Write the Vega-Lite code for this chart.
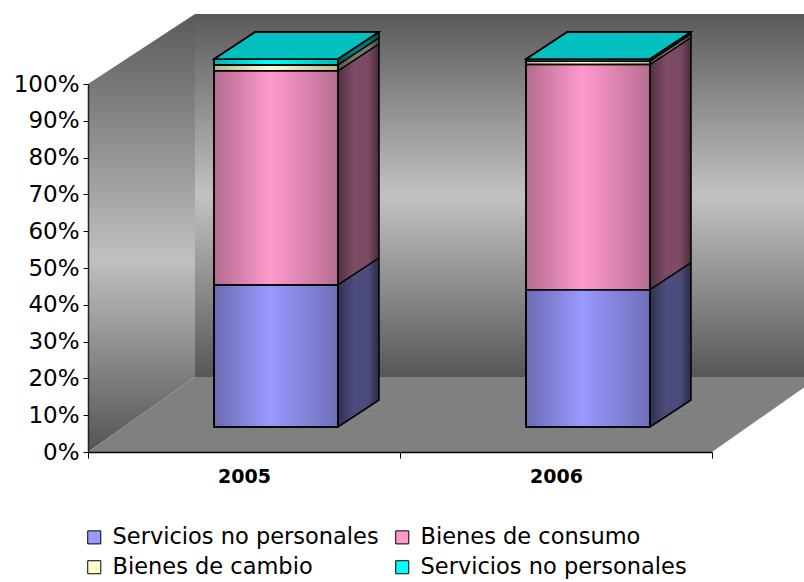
{
  "$schema": "https://vega.github.io/schema/vega-lite/v6.json",
  "width": 716,
  "height": 440,
  "autosize": {"type": "none"},
  "padding": {"left": 88, "top": 12, "right": 0, "bottom": 130},
  "background": "white",
  "config": {"view": {"stroke": null}, "font": "DejaVu Sans"},
  "data": {
    "values": [
      {"year": "2005", "serie": "Servicios no personales", "orden": 1, "pct": 38.6},
      {"year": "2005", "serie": "Bienes de consumo", "orden": 2, "pct": 58.2},
      {"year": "2005", "serie": "Bienes de cambio", "orden": 3, "pct": 1.6},
      {"year": "2005", "serie": "Servicios no personales ", "orden": 4, "pct": 1.6},
      {"year": "2006", "serie": "Servicios no personales", "orden": 1, "pct": 37.3},
      {"year": "2006", "serie": "Bienes de consumo", "orden": 2, "pct": 61.2},
      {"year": "2006", "serie": "Bienes de cambio", "orden": 3, "pct": 0.9},
      {"year": "2006", "serie": "Servicios no personales ", "orden": 4, "pct": 0.6}
    ]
  },
  "encoding": {
    "x": {
      "field": "year", "type": "nominal",
      "scale": {"domain": ["2005", "2006"], "range": [0, 624], "paddingInner": 0, "paddingOuter": 0},
      "axis": {"title": null, "labelAngle": 0, "tickBand": "extent", "labelFont": "DejaVu Sans", "labelFontWeight": "bold", "labelFontSize": 19, "labelColor": "black", "domainColor": "black", "domainWidth": 1.5, "tickColor": "black", "tickSize": 6, "labelPadding": 9, "grid": false, "zindex": 1}
    }
  },
  "layer": [
    {
      "data": {"values": [{}]},
      "layer": [
        {
          "mark": {"type": "point", "shape": "M107,-75 L716,-75 L716,-438 L107,-438 Z", "size": 4, "filled": true, "opacity": 1, "strokeWidth": 0,
            "fill": {"gradient": "linear", "x1": 0, "y1": 0, "x2": 0, "y2": 1, "stops": [{"offset": 0, "color": "#5a5a5a"}, {"offset": 0.5, "color": "#c2c2c2"}, {"offset": 1, "color": "#575757"}]}},
          "encoding": {"x": {"datum": "2005", "bandPosition": 0}, "y": {"datum": 0}}
        },
        {
          "mark": {"type": "point", "shape": "M0,0 L0,-368 L107,-438 L107,-75 Z", "size": 4, "filled": true, "opacity": 1, "strokeWidth": 0,
            "fill": {"gradient": "linear", "x1": 0, "y1": 0, "x2": 0, "y2": 1, "stops": [{"offset": 0, "color": "#5a5a5a"}, {"offset": 0.56, "color": "#c0c0c0"}, {"offset": 1, "color": "#545454"}]}},
          "encoding": {"x": {"datum": "2005", "bandPosition": 0}, "y": {"datum": 0}}
        },
        {
          "mark": {"type": "point", "shape": "M0,0 L107,-75 L716,-75 L716,-64.5 L624,0 Z", "size": 4, "filled": true, "opacity": 1, "fill": "#808080", "strokeWidth": 0},
          "encoding": {"x": {"datum": "2005", "bandPosition": 0}, "y": {"datum": 0}}
        }
      ]
    },
    {
      "transform": [
        {"stack": "pct", "groupby": ["year"], "sort": [{"field": "orden", "order": "ascending"}], "offset": "normalize", "as": ["y0", "y1"]}
      ],
      "encoding": {
        "y": {
          "field": "y1", "type": "quantitative",
          "scale": {"domain": [0, 1], "range": [440, 72]},
          "axis": {"title": null, "values": [0, 0.1, 0.2, 0.3, 0.4, 0.5, 0.6, 0.7, 0.8, 0.9, 1], "format": ".0%", "labelFont": "DejaVu Sans", "labelFontSize": 23, "labelColor": "black", "tickColor": "black", "tickSize": 5, "labelPadding": 4, "domainColor": "#222222", "domainWidth": 1.5, "grid": false, "zindex": 1}
        },
        "color": {"field": "serie", "type": "nominal",
          "scale": {"domain": ["Servicios no personales", "Bienes de consumo", "Bienes de cambio", "Servicios no personales "], "range": ["#9999ff", "#ff99cc", "#ffffcc", "#00ffff"]},
          "legend": {"title": null, "orient": "none", "legendX": -5, "legendY": 514, "columns": 2, "direction": "horizontal", "symbolType": "square", "symbolSize": 170, "symbolStrokeColor": "black", "symbolStrokeWidth": 1, "symbolOpacity": 1, "labelFont": "DejaVu Sans", "labelFontSize": 22.5, "labelColor": "black", "labelExpr": "trim(datum.label)", "rowPadding": 7, "columnPadding": 12, "labelOffset": 7, "labelLimit": 400}}
      },
      "layer": [
        {
          "mark": {"type": "bar", "width": 41, "xOffset": 114.5, "yOffset": -38.5, "y2Offset": -38.5, "strokeWidth": 0, "opacity": 1},
          "encoding": {"y2": {"field": "y0"}}
        },
        {
          "mark": {"type": "point", "shape": "M114.5,-38.5 L135,-52 L135,-38.5 Z", "size": 4, "filled": true, "opacity": 1, "strokeWidth": 0},
          "encoding": {"order": {"field": "orden", "type": "quantitative", "sort": "descending"}}
        },
        {
          "mark": {"type": "point", "shape": "M94,-38.5 L94,-25 L114.5,-38.5 Z", "size": 4, "filled": true, "opacity": 1, "strokeWidth": 0},
          "encoding": {"y": {"field": "y0", "type": "quantitative"}, "order": {"field": "orden", "type": "quantitative", "sort": "ascending"}}
        },
        {
          "transform": [{"filter": "datum.orden == 1"}],
          "mark": {"type": "point", "shape": "M114.5,-38.5 L135,-52 L135,-38.5 Z", "size": 4, "filled": true, "opacity": 1, "fill": "#808080", "strokeWidth": 0},
          "encoding": {"y": {"field": "y0", "type": "quantitative"}, "color": null}
        },
        {
          "transform": [{"filter": "datum.orden == 1"}],
          "mark": {"type": "point", "shape": "M94,-25 L135,-52 L135,-420 L94,-393 Z", "size": 4, "filled": true, "opacity": 1, "strokeWidth": 0,
            "fill": {"gradient": "linear", "x1": 0, "y1": 0, "x2": 1, "y2": 0, "stops": [{"offset": 0, "color": "rgba(0,0,0,0.68)"}, {"offset": 0.4, "color": "rgba(0,0,0,0.5)"}, {"offset": 0.75, "color": "rgba(0,0,0,0.52)"}, {"offset": 1, "color": "rgba(0,0,0,0.72)"}]}},
          "encoding": {"y": {"field": "y0", "type": "quantitative"}, "color": null}
        },
        {
          "mark": {"type": "bar", "width": 124, "xOffset": 32, "yOffset": -25, "y2Offset": -25, "strokeWidth": 0, "opacity": 1},
          "encoding": {"y2": {"field": "y0"}}
        },
        {
          "mark": {"type": "bar", "width": 124, "xOffset": 32, "yOffset": -25, "y2Offset": -25, "stroke": "black", "strokeWidth": 1.5,
            "fill": {"gradient": "linear", "x1": 0, "y1": 0, "x2": 1, "y2": 0, "stops": [{"offset": 0, "color": "rgba(0,0,0,0.3)"}, {"offset": 0.45, "color": "rgba(0,0,0,0)"}, {"offset": 1, "color": "rgba(0,0,0,0.28)"}]}},
          "encoding": {"y2": {"field": "y0"}, "color": null}
        },
        {
          "transform": [{"filter": "datum.orden == 4"}],
          "mark": {"type": "point", "shape": "M-30,-25 L94,-25 L135,-52 L11,-52 Z", "size": 4, "filled": true, "opacity": 1, "fill": "#00c0c0", "stroke": "black", "strokeWidth": 1.5},
          "encoding": {"color": null}
        },
        {
          "transform": [{"filter": "datum.orden < 4"}],
          "mark": {"type": "point", "shape": "M94,-25 L135,-52", "size": 4, "filled": false, "opacity": 1, "stroke": "black", "strokeWidth": 1.5},
          "encoding": {"color": null}
        },
        {
          "transform": [{"filter": "datum.orden == 1"}],
          "mark": {"type": "point", "shape": "M-30,-25 L94,-25 L135,-52 L135,-420 L11,-420 L-30,-393 Z M94,-25 L94,-393 M94,-393 L135,-420", "size": 4, "filled": false, "opacity": 1, "stroke": "black", "strokeWidth": 1.5},
          "encoding": {"y": {"field": "y0", "type": "quantitative"}, "color": null}
        }
      ]
    }
  ]
}
